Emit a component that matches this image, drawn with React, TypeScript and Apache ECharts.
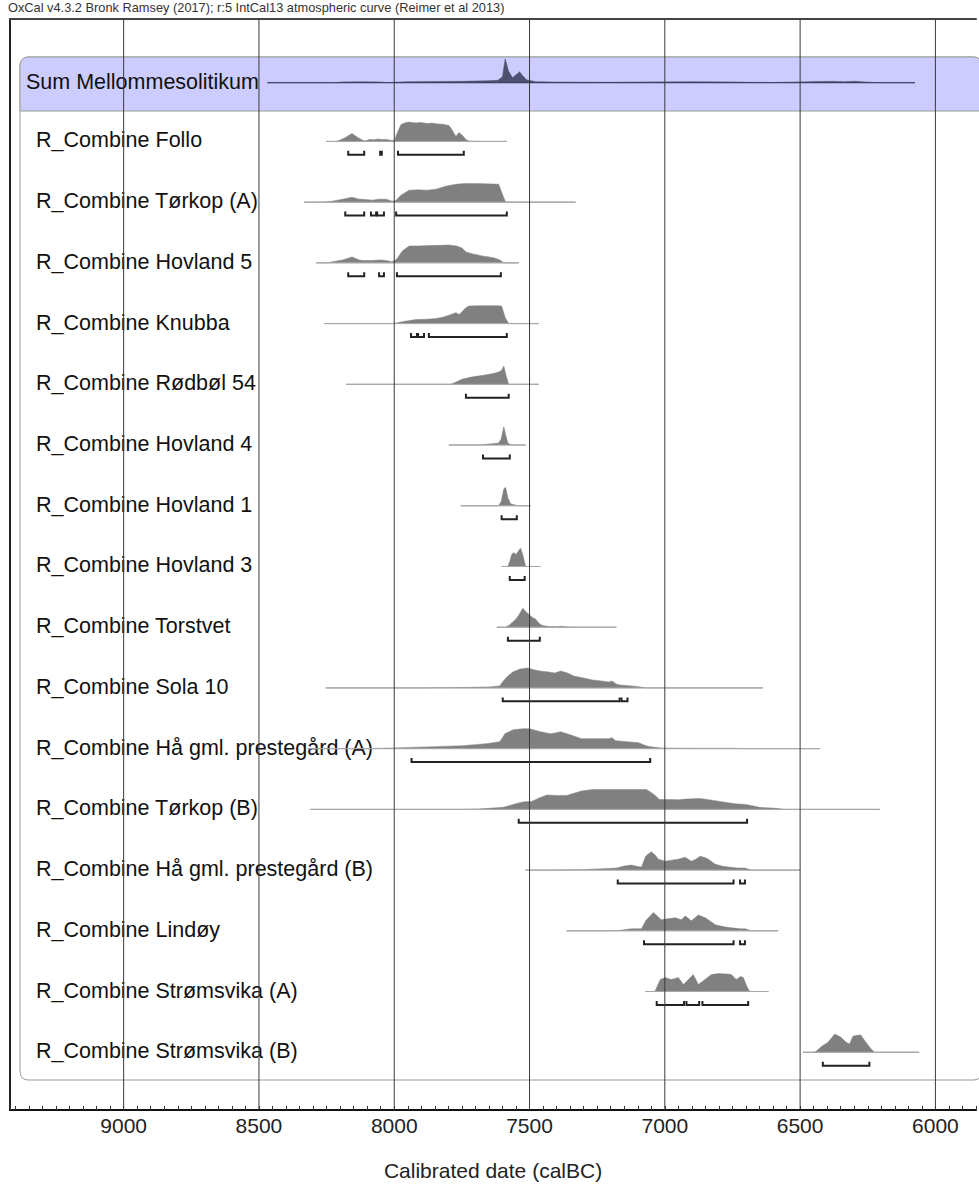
import React, { useEffect, useRef } from "react";
import * as echarts from "echarts";

const FONT = "'Liberation Sans', Arial, Helvetica, sans-serif";
const TITLE = "OxCal v4.3.2 Bronk Ramsey (2017); r:5 IntCal13 atmospheric curve (Reimer et al 2013)";
const AXIS_TITLE = "Calibrated date (calBC)";
const MAJOR_TICKS = [9000, 8500, 8000, 7500, 7000, 6500, 6000];
const X_MIN = 5850;
const X_MAX = 9420;
const Y_MIN = -2.016;
const Y_MAX = 15.951;
const SUM_ROW = -0.967;

const sumLabel = "Sum Mellommesolitikum";
const sumRange = [8469, 6076];
const sumDensity = [[8469,0],[8220,0],[8189,0.04],[8120,0.05],[8052,0.04],[8030,0],[7956,0.05],[7850,0.06],[7750,0.07],[7650,0.1],[7617,0.12],[7600,0.3],[7590,1.2],[7578,0.6],[7563,0.25],[7545,0.45],[7537,0.55],[7525,0.35],[7511,0.15],[7477,0.05],[7400,0.03],[7200,0.02],[7061,0.04],[6900,0.05],[6750,0.04],[6696,0.02],[6600,0.01],[6434,0.06],[6380,0.07],[6340,0.05],[6300,0.07],[6242,0.02],[6200,0],[6076,0]];

const rowLabels = [
  "R_Combine Follo",
  "R_Combine Tørkop (A)",
  "R_Combine Hovland 5",
  "R_Combine Knubba",
  "R_Combine Rødbøl 54",
  "R_Combine Hovland 4",
  "R_Combine Hovland 1",
  "R_Combine Hovland 3",
  "R_Combine Torstvet",
  "R_Combine Sola 10",
  "R_Combine Hå gml. prestegård (A)",
  "R_Combine Tørkop (B)",
  "R_Combine Hå gml. prestegård (B)",
  "R_Combine Lindøy",
  "R_Combine Strømsvika (A)",
  "R_Combine Strømsvika (B)",
];

const folloRange = [8252, 7584];
const folloDensity = [[8252,0],[8215,0],[8204,0.05],[8180,0.2],[8156,0.4],[8135,0.2],[8115,0.05],[8104,0.03],[8093,0.1],[8075,0.08],[8060,0.12],[8045,0.1],[8030,0.1],[8010,0.05],[7998,0.05],[7993,0.3],[7975,0.85],[7957,0.95],[7945,0.97],[7920,0.93],[7900,0.95],[7880,0.9],[7860,0.92],[7840,0.88],[7820,0.86],[7798,0.8],[7787,0.6],[7772,0.25],[7761,0.45],[7748,0.3],[7735,0.1],[7724,0.02],[7700,0],[7584,0]];
const folloHpd = [[8170,8111],[8052,8046],[7986,7743]];

const torkopARange = [8333, 7330];
const torkopADensity = [[8333,0],[8260,0],[8230,0.05],[8190,0.15],[8156,0.25],[8130,0.15],[8119,0.15],[8080,0.1],[8060,0.15],[8030,0.15],[8008,0.05],[7993,0.1],[7975,0.35],[7945,0.6],[7910,0.62],[7880,0.6],[7846,0.65],[7810,0.8],[7772,0.9],[7740,0.93],[7700,0.93],[7660,0.92],[7614,0.9],[7603,0.5],[7590,0.05],[7584,0],[7330,0]];
const torkopAHpd = [[8181,8111],[8086,8067],[8063,8038],[7993,7584]];

const hovland5Range = [8288, 7540];
const hovland5Density = [[8288,0],[8250,0],[8229,0.05],[8190,0.15],[8156,0.3],[8130,0.15],[8119,0.12],[8080,0.12],[8050,0.15],[8030,0.12],[8008,0.05],[7990,0.2],[7970,0.6],[7945,0.85],[7910,0.85],[7870,0.87],[7830,0.88],[7798,0.9],[7770,0.85],[7750,0.75],[7735,0.55],[7710,0.45],[7690,0.4],[7676,0.35],[7650,0.3],[7630,0.25],[7610,0.15],[7595,0],[7540,0]];
const hovland5Hpd = [[8170,8111],[8056,8038],[7990,7606]];

const knubbaRange = [8259, 7466];
const knubbaDensity = [[8259,0],[8010,0],[7993,0.03],[7960,0.12],[7920,0.2],[7880,0.22],[7846,0.25],[7820,0.32],[7798,0.42],[7772,0.55],[7760,0.45],[7735,0.8],[7724,0.88],[7690,0.9],[7650,0.9],[7620,0.9],[7603,0.88],[7590,0.3],[7577,0],[7466,0]];
const knubbaHpd = [[7938,7916],[7912,7890],[7872,7584]];

const rodbolRange = [8178, 7466];
const rodbolDensity = [[8178,0],[7800,0],[7787,0.02],[7750,0.25],[7720,0.35],[7698,0.4],[7670,0.45],[7650,0.5],[7630,0.55],[7614,0.62],[7603,0.7],[7595,0.92],[7588,0.5],[7577,0],[7466,0]];
const rodbolHpd = [[7735,7577]];

const hovland4Range = [7798, 7514];
const hovland4Density = [[7798,0],[7680,0],[7650,0.05],[7614,0.1],[7605,0.3],[7595,0.92],[7588,0.5],[7580,0.1],[7570,0.02],[7555,0],[7514,0]];
const hovland4Hpd = [[7672,7573]];

const hovland1Range = [7754, 7496];
const hovland1Density = [[7754,0],[7615,0],[7605,0.2],[7595,0.85],[7588,0.92],[7580,0.4],[7570,0.1],[7551,0.03],[7540,0],[7496,0]];
const hovland1Hpd = [[7603,7547]];

const hovland3Range = [7603, 7459];
const hovland3Density = [[7603,0],[7580,0],[7572,0.3],[7566,0.6],[7558,0.7],[7550,0.6],[7540,0.8],[7533,0.92],[7525,0.6],[7518,0.2],[7514,0],[7459,0]];
const hovland3Hpd = [[7573,7518]];

const torstvetRange = [7621, 7179];
const torstvetDensity = [[7621,0],[7590,0],[7575,0.1],[7551,0.4],[7540,0.6],[7525,0.95],[7515,0.8],[7503,0.65],[7490,0.5],[7477,0.4],[7465,0.2],[7455,0.1],[7430,0.03],[7400,0.02],[7385,0.05],[7370,0.02],[7340,0],[7179,0]];
const torstvetHpd = [[7580,7462]];

const sola10Range = [8253, 6637];
const sola10Density = [[8253,0],[7900,0],[7759,0.02],[7650,0.05],[7610,0.1],[7600,0.3],[7580,0.6],[7562,0.8],[7535,0.95],[7507,1.0],[7480,0.9],[7462,0.85],[7430,0.8],[7407,0.75],[7385,0.85],[7360,0.75],[7337,0.6],[7300,0.5],[7267,0.4],[7235,0.35],[7208,0.3],[7195,0.35],[7180,0.2],[7167,0.15],[7123,0.1],[7090,0.05],[7068,0],[6637,0]];
const sola10Hpd = [[7599,7167],[7160,7138]];

const haARange = [8320, 6426];
const haADensity = [[8320,0],[8100,0],[7971,0.05],[7850,0.1],[7746,0.15],[7660,0.25],[7610,0.35],[7600,0.55],[7591,0.75],[7560,0.95],[7525,1.0],[7499,1.0],[7460,0.85],[7422,0.75],[7400,0.8],[7385,0.85],[7350,0.7],[7308,0.5],[7260,0.5],[7208,0.5],[7195,0.55],[7182,0.4],[7140,0.35],[7097,0.3],[7070,0.15],[7053,0.1],[7013,0.03],[6900,0.02],[6750,0.02],[6703,0],[6426,0]];
const haAHpd = [[7936,7054]];

const torkopBRange = [8310, 6205];
const torkopBDensity = [[8310,0],[7750,0],[7689,0.02],[7597,0.1],[7547,0.3],[7520,0.38],[7492,0.4],[7460,0.6],[7435,0.72],[7400,0.7],[7363,0.7],[7308,0.92],[7267,1.0],[7200,1.0],[7150,1.0],[7100,1.0],[7068,1.0],[7040,0.75],[7020,0.5],[6983,0.5],[6950,0.48],[6920,0.52],[6870,0.55],[6820,0.45],[6773,0.35],[6740,0.28],[6701,0.25],[6650,0.1],[6589,0.05],[6559,0],[6205,0]];
const torkopBHpd = [[7540,6696]];

const haBRange = [7515, 6500];
const haBDensity = [[7515,0],[7400,0],[7307,0.02],[7178,0.1],[7150,0.2],[7123,0.25],[7100,0.18],[7086,0.15],[7071,0.7],[7050,0.92],[7035,0.75],[7024,0.55],[6999,0.45],[6975,0.5],[6950,0.55],[6925,0.65],[6902,0.45],[6885,0.55],[6870,0.7],[6850,0.62],[6839,0.55],[6815,0.3],[6790,0.2],[6765,0.15],[6730,0.1],[6704,0.1],[6681,0],[6500,0]];
const haBHpd = [[7174,6746],[6722,6704]];

const lindoyRange = [7363, 6581];
const lindoyDensity = [[7363,0],[7200,0],[7171,0.02],[7123,0.1],[7086,0.1],[7071,0.5],[7042,0.92],[7013,0.55],[6990,0.6],[6961,0.65],[6939,0.55],[6924,0.75],[6902,0.5],[6876,0.8],[6850,0.65],[6813,0.3],[6780,0.2],[6754,0.15],[6720,0.1],[6703,0.1],[6681,0],[6581,0]];
const lindoyHpd = [[7077,6746],[6722,6704]];

const stromARange = [7072, 6617];
const stromADensity = [[7072,0],[7040,0],[7035,0.05],[7017,0.6],[6999,0.7],[6976,0.6],[6950,0.7],[6931,0.35],[6913,0.6],[6895,0.85],[6876,0.35],[6852,0.6],[6828,0.85],[6802,0.9],[6770,0.88],[6754,0.85],[6736,0.6],[6720,0.75],[6710,0.7],[6695,0.2],[6686,0],[6617,0]];
const stromAHpd = [[7030,6929],[6920,6873],[6861,6692]];

const stromBRange = [6489, 6060];
const stromBDensity = [[6489,0],[6450,0],[6441,0.05],[6420,0.3],[6397,0.5],[6372,0.92],[6349,0.75],[6330,0.5],[6317,0.42],[6305,0.8],[6290,0.85],[6276,0.87],[6257,0.5],[6240,0.2],[6225,0],[6060,0]];
const stromBHpd = [[6416,6244]];

const ranges = [folloRange, torkopARange, hovland5Range, knubbaRange, rodbolRange, hovland4Range, hovland1Range, hovland3Range, torstvetRange, sola10Range, haARange, torkopBRange, haBRange, lindoyRange, stromARange, stromBRange];
const densities = [folloDensity, torkopADensity, hovland5Density, knubbaDensity, rodbolDensity, hovland4Density, hovland1Density, hovland3Density, torstvetDensity, sola10Density, haADensity, torkopBDensity, haBDensity, lindoyDensity, stromADensity, stromBDensity];
const hpds = [folloHpd, torkopAHpd, hovland5Hpd, knubbaHpd, rodbolHpd, hovland4Hpd, hovland1Hpd, hovland3Hpd, torstvetHpd, sola10Hpd, haAHpd, torkopBHpd, haBHpd, lindoyHpd, stromAHpd, stromBHpd];

const PX = 1 / 61; // one row unit = 61 px
const DENS_H = 20 * PX;
const BR_OFF = 13.5 * PX;
const BR_TICK = 4 * PX;

export default function App() {
  const ref = useRef<HTMLDivElement>(null);
  useEffect(() => {
    if (!ref.current) return;
    const chart = echarts.init(ref.current, undefined, { renderer: "svg" });

    const distSeries = (dens: number[][], range: number[], row: number, fill: string, lineCol: string) => ({
      type: "custom",
      coordinateSystem: "cartesian2d",
      z: 4,
      silent: true,
      data: [[range[0], row]],
      renderItem: (_p: any, api: any) => {
        const pts = dens.map(([yr, d]) => api.coord([yr, row - d * DENS_H]));
        const b0 = api.coord([range[0], row]);
        const b1 = api.coord([range[1], row]);
        return {
          type: "group",
          children: [
            { type: "polygon", shape: { points: pts }, style: { fill, stroke: fill, lineWidth: 0.5 } },
            { type: "line", shape: { x1: b0[0], y1: b0[1], x2: b1[0], y2: b1[1] }, style: { stroke: lineCol, lineWidth: 1 } },
          ],
        };
      },
    });

    const series: any[] = [];
    series.push({
      type: "custom",
      coordinateSystem: "cartesian2d",
      z: 3,
      silent: true,
      data: [[X_MAX, SUM_ROW], ...rowLabels.map((_, i) => [X_MAX, i])],
      renderItem: (params: any, api: any) => {
        const idx = params.dataIndex;
        const p = api.coord([X_MAX, api.value(1)]);
        const text = idx === 0 ? sumLabel : rowLabels[idx - 1];
        return {
          type: "text",
          x: idx === 0 ? 26 : 36,
          y: p[1] - 1,
          style: { text, fill: "#111", fontSize: 21.5, fontFamily: FONT, align: "left", verticalAlign: "middle" },
        };
      },
    });
    series.push(distSeries(sumDensity, sumRange, SUM_ROW, "#4f4f70", "#3a3a5a"));
    densities.forEach((d, i) => series.push(distSeries(d, ranges[i], i, "#808080", "#a8a8a8")));
    series.push({
      type: "custom",
      coordinateSystem: "cartesian2d",
      z: 5,
      silent: true,
      data: hpds.map((_, i) => [X_MAX, i]),
      renderItem: (params: any, api: any) => {
        const row = params.dataIndex;
        const children = hpds[row].map(([a, b]) => ({
          type: "polyline",
          shape: {
            points: [
              api.coord([a, row + BR_OFF - BR_TICK]),
              api.coord([a, row + BR_OFF]),
              api.coord([b, row + BR_OFF]),
              api.coord([b, row + BR_OFF - BR_TICK]),
            ],
          },
          style: { stroke: "#222", lineWidth: 2, fill: null },
        }));
        return { type: "group", children };
      },
    });
    series.push({
      type: "custom",
      coordinateSystem: "cartesian2d",
      z: 10,
      silent: true,
      data: MAJOR_TICKS.map((v) => [v, 0]),
      renderItem: (_p: any, api: any) => {
        const v = api.value(0);
        const a = api.coord([v, Y_MIN]);
        const b = api.coord([v, Y_MAX]);
        return { type: "line", shape: { x1: a[0], y1: a[1], x2: b[0], y2: b[1] }, style: { stroke: "#3a3a3a", lineWidth: 1 } };
      },
    });

    chart.setOption({
      animation: false,
      backgroundColor: "#ffffff",
      title: {
        text: TITLE,
        left: 8,
        top: 1,
        padding: 0,
        textStyle: { fontSize: 12.8, fontWeight: "normal", color: "#333", fontFamily: FONT },
      },
      graphic: [
        { type: "rect", z: 0, shape: { x: 20, y: 57, width: 962, height: 1023, r: 8 }, style: { fill: "#ffffff", stroke: "#9a9a9a", lineWidth: 1 } },
        { type: "rect", z: 0, shape: { x: 20, y: 57, width: 962, height: 54, r: [8, 8, 0, 0] }, style: { fill: "#ccccff", stroke: "#9a9a9a", lineWidth: 1 } },
      ],
      grid: { left: 10, right: 0, top: 19, bottom: 71, containLabel: false },
      xAxis: [
        {
          type: "value",
          min: X_MIN,
          max: X_MAX,
          interval: 50,
          inverse: true,
          position: "bottom",
          axisLine: { onZero: false, lineStyle: { color: "#111", width: 2 } },
          axisTick: { inside: true, length: 4, lineStyle: { color: "#333", width: 1 } },
          axisLabel: {
            margin: 5,
            fontSize: 21,
            color: "#222",
            fontFamily: FONT,
            formatter: (v: number) => (MAJOR_TICKS.includes(v) ? String(v) : ""),
          },
          splitLine: { show: false },
          name: AXIS_TITLE,
          nameLocation: "middle",
          nameGap: 50,
          nameTextStyle: { fontSize: 21, color: "#222", fontFamily: FONT },
        },
        {
          type: "value",
          min: X_MIN,
          max: X_MAX,
          inverse: true,
          position: "top",
          axisLine: { onZero: false, lineStyle: { color: "#444", width: 2 } },
          axisTick: { show: false },
          axisLabel: { show: false },
          splitLine: { show: false },
        },
      ],
      yAxis: {
        type: "value",
        min: Y_MIN,
        max: Y_MAX,
        inverse: true,
        axisLine: { show: true, onZero: false, lineStyle: { color: "#222", width: 2 } },
        axisTick: { show: false },
        axisLabel: { show: false },
        splitLine: { show: false },
      },
      series,
    });
    return () => chart.dispose();
  }, []);
  return <div ref={ref} style={{ position: "absolute", left: 0, top: 0, width: 979, height: 1186, background: "#fff" }} />;
}
